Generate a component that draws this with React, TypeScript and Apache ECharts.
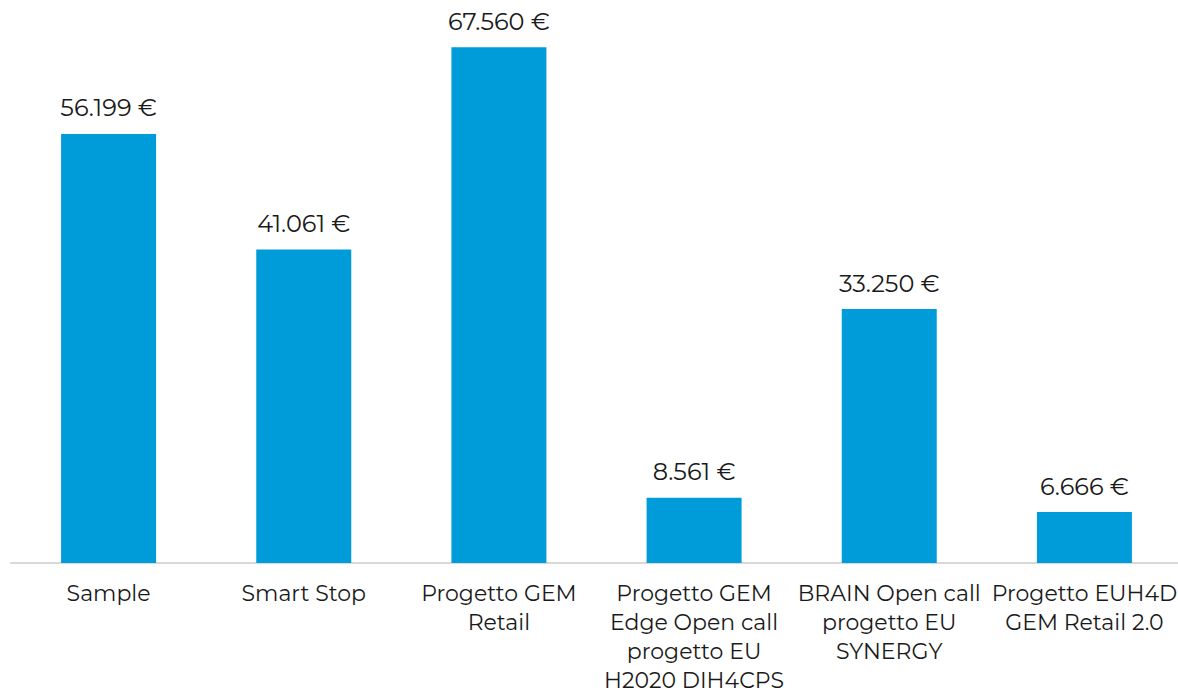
import React, { useEffect, useRef } from "react";
import * as echarts from "echarts";

const categories = [
  "Sample",
  "Smart Stop",
  "Progetto GEM\nRetail",
  "Progetto GEM\nEdge Open call\nprogetto EU\nH2020 DIH4CPS",
  "BRAIN Open call\nprogetto EU\nSYNERGY",
  "Progetto EUH4D\nGEM Retail 2.0",
];
const values = [56199, 41061, 67560, 8561, 33250, 6666];

const FONT = "Montserrat, 'DejaVu Sans', sans-serif";

function fmt(v: number): string {
  return v.toString().replace(/\B(?=(\d{3})+(?!\d))/g, ".") + " €";
}

export default function App() {
  const ref = useRef<HTMLDivElement>(null);
  useEffect(() => {
    if (!ref.current) return;
    const chart = echarts.init(ref.current, undefined, { renderer: "svg" });
    chart.setOption({
      animation: false,
      grid: {
        left: 11,
        right: -4,
        top: 28.5,
        bottom: 133,
        containLabel: false,
        outerBoundsMode: "none",
      },
      xAxis: {
        type: "category",
        data: categories,
        axisLine: { show: true, lineStyle: { color: "#d9d9d9", width: 2 } },
        axisTick: { show: false },
        axisLabel: {
          interval: 0,
          margin: 16,
          color: "#1a1a1a",
          fontFamily: FONT,
          fontSize: 22,
          lineHeight: 29,
        },
      },
      yAxis: {
        type: "value",
        min: 0,
        max: 70000,
        show: false,
        splitLine: { show: false },
      },
      series: [
        {
          type: "bar",
          data: values,
          barWidth: 95,
          itemStyle: { color: "#009cd9" },
          label: {
            show: true,
            position: "top",
            distance: 14,
            color: "#1a1a1a",
            fontFamily: FONT,
            fontSize: 24,
            formatter: (p: any) => fmt(p.value),
          },
        },
      ],
    });
    return () => chart.dispose();
  }, []);
  return (
    <div
      ref={ref}
      style={{ position: "fixed", left: 0, top: 0, width: 1178, height: 696, background: "#fff" }}
    />
  );
}
